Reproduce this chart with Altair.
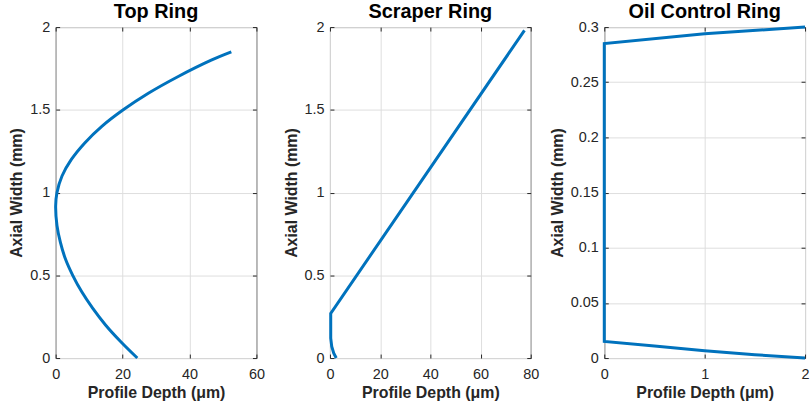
import altair as alt
import pandas as pd

# Top Ring profile
top_x = [24.4, 19.4, 14.9, 11.1, 7.8, 5.1, 2.9, 1.4, 0.4, 0.0, 0.4, 1.9, 4.7, 8.7, 13.8, 20.2, 27.7, 36.5, 46.5, 52.5]
top_y = [0.0, 0.1, 0.2, 0.3, 0.4, 0.5, 0.6, 0.7, 0.8, 0.92, 1.0, 1.1, 1.2, 1.3, 1.4, 1.5, 1.6, 1.7, 1.8, 1.85]

# Scraper Ring profile
scr_x = [2.5, 1.5, 0.7, 0.3, 0.3, 77.5]
scr_y = [0.0, 0.03, 0.07, 0.12, 0.27, 1.98]

# Oil Control Ring profile
oil_x = [2.0, 1.5, 1.0, 0.5, 0.0, 0.0, 1.0, 2.0]
oil_y = [0.0, 0.003, 0.0066, 0.011, 0.015, 0.285, 0.294, 0.3]

titles = ["Top Ring", "Scraper Ring", "Oil Control Ring"]
x_ticks = [[0, 20, 40, 60], [0, 20, 40, 60, 80], [0, 1, 2]]
y_ticks = [[0, 0.5, 1, 1.5, 2], [0, 0.5, 1, 1.5, 2], [0, 0.05, 0.1, 0.15, 0.2, 0.25, 0.3]]

W, H = 202, 333
FONT = "Liberation Sans"
DARK = "#262626"
LABEL = "datum.value + ''"


def make_df(xs, ys):
    return pd.DataFrame({"x": xs, "y": ys, "i": list(range(len(xs)))})


def panel(df, title, xt, yt, interp):
    xs = alt.Scale(domain=[xt[0], xt[-1]], nice=False, zero=False)
    ys = alt.Scale(domain=[yt[0], yt[-1]], nice=False, zero=False)
    base = alt.Chart(df)
    line = base.mark_line(color="#0072BD", strokeWidth=3, interpolate=interp).encode(
        x=alt.X("x:Q", scale=xs, title="Profile Depth (μm)",
                axis=alt.Axis(values=xt, labelExpr=LABEL, grid=True, tickSize=0, domain=False,
                              labelFlush=False, labelPadding=10, titlePadding=3)),
        y=alt.Y("y:Q", scale=ys, title="Axial Width (mm)",
                axis=alt.Axis(values=yt, labelExpr=LABEL, grid=True, tickSize=0, domain=False,
                              labelFlush=False, labelPadding=6, titlePadding=5)),
        order="i:Q",
    )
    t1 = base.mark_point(opacity=0).encode(
        x=alt.X("x:Q", scale=xs, title=None,
                axis=alt.Axis(orient="top", offset=-H, values=xt, labels=False, grid=False,
                              domain=False, tickSize=4, tickColor=DARK)),
        y=alt.Y("y:Q", scale=ys, title=None,
                axis=alt.Axis(orient="right", offset=-W, values=yt, labels=False, grid=False,
                              domain=False, tickSize=4, tickColor=DARK)),
    )
    t2 = base.mark_point(opacity=0).encode(
        x=alt.X("x:Q", scale=xs, title=None,
                axis=alt.Axis(orient="bottom", offset=-H, values=xt, labels=False, grid=False,
                              domain=False, tickSize=4, tickColor=DARK)),
        y=alt.Y("y:Q", scale=ys, title=None,
                axis=alt.Axis(orient="left", offset=-W, values=yt, labels=False, grid=False,
                              domain=False, tickSize=4, tickColor=DARK)),
    )
    return alt.layer(line, t1, t2).resolve_axis(x="independent", y="independent").properties(
        width=W, height=H,
        title=alt.TitleParams(title, fontSize=20, fontWeight="bold", color="black",
                              font=FONT, anchor="middle", offset=-3),
    )


p1 = panel(make_df(top_x, top_y), titles[0], x_ticks[0], y_ticks[0], "catmull-rom")
p2 = panel(make_df(scr_x, scr_y), titles[1], x_ticks[1], y_ticks[1], "linear")
p3 = panel(make_df(oil_x, oil_y), titles[2], x_ticks[2], y_ticks[2], "linear")

chart = alt.hconcat(p1, p2, p3, spacing=74, bounds="flush").properties(
    padding={"left": 8, "top": 0, "right": 0, "bottom": 2},
    background="white",
).configure_view(
    stroke=DARK, strokeWidth=1
).configure_axis(
    labelFont=FONT, labelFontSize=14.5, labelColor=DARK,
    titleFont=FONT, titleFontSize=16, titleFontWeight="bold", titleColor=DARK,
    gridColor="#dedede", gridWidth=1,
)

chart.save("out.html", embed_options={"renderer": "svg", "actions": False})
